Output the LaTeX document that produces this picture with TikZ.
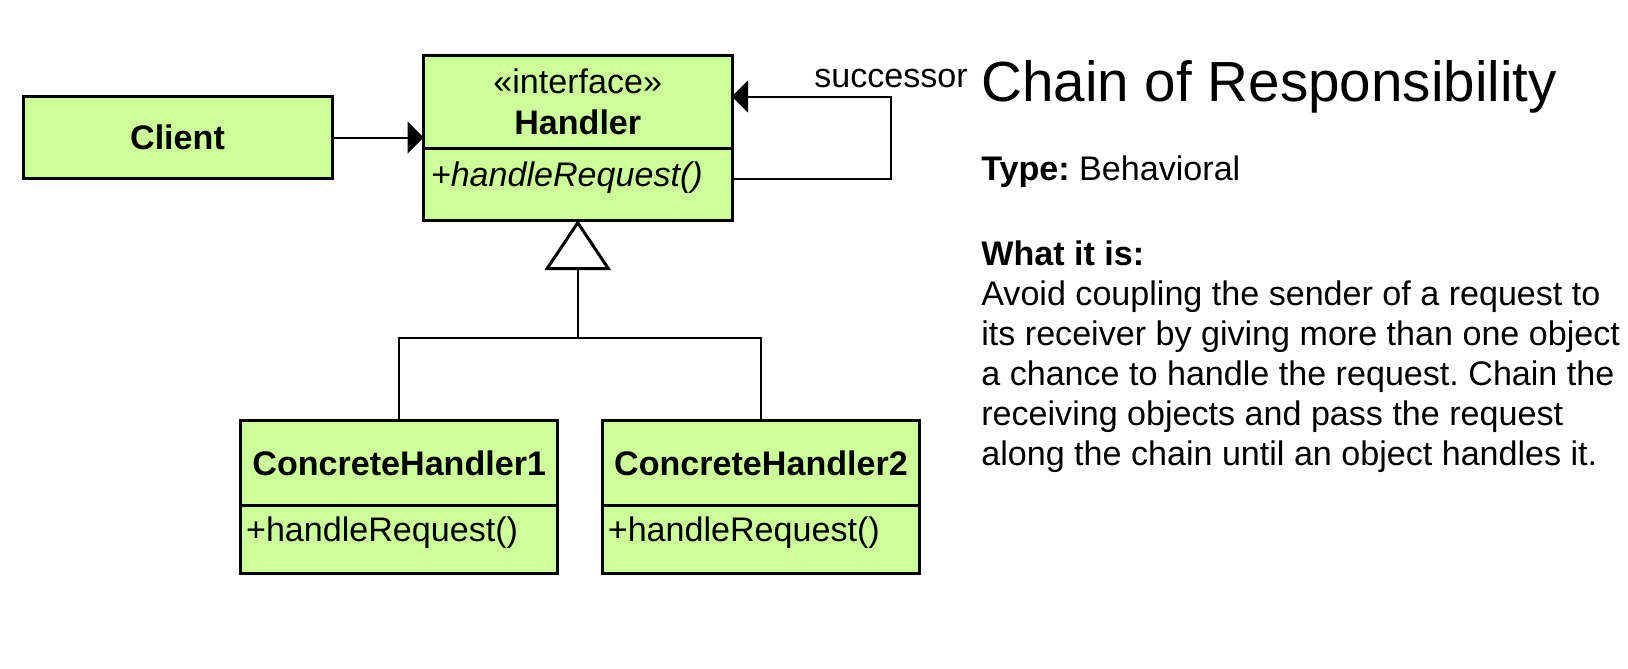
\documentclass[tikz,border=0pt]{standalone}
\usepackage{fontspec}
\setmainfont{Liberation Sans}
\usetikzlibrary{positioning, calc, arrows.meta}

\definecolor{umlgreen}{RGB}{204,255,153}
\newcommand{\umlfont}{\fontsize{19.4pt}{23.3pt}\selectfont}
\newcommand{\notefont}{\fontsize{19.4pt}{22.8pt}\selectfont\frenchspacing}

\begin{document}
\begin{tikzpicture}[
    classbox/.style={draw, line width=0.06cm, fill=umlgreen, inner sep=0pt, outer sep=0pt, align=center, font=\umlfont},
    optext/.style={anchor=base west, inner sep=0pt, font=\umlfont},
    umlarrow/.style={line width=0.04cm, -{Triangle[length=0.32cm, width=0.64cm]}},
    umlline/.style={line width=0.04cm},
    generalize/.style={line width=0.04cm, -{Triangle[open, length=1.0cm, width=1.32cm, line width=0.06cm]}},
    notetext/.style={anchor=base west, inner sep=0pt, align=left, font=\notefont}
]

    % Fix the page size
    \useasboundingbox (0,0) rectangle (32.56,-13.36);

    % Client and the Handler interface
    \node[classbox, minimum width=6.18cm, minimum height=1.64cm] (client) at (3.55,-2.75) {\textbf{Client}};
    \node[classbox, minimum width=6.17cm, minimum height=1.87cm] (handler) at (11.555,-2.035) {«interface»\\\textbf{Handler}};
    \node[classbox, minimum width=6.17cm, minimum height=1.43cm, below=0pt of handler] (handlerops) {};
    \node[optext] (handlerop) at ($(handlerops.north west)+(0.14,-0.76)$) {\textit{+handleRequest()}};

    % Concrete handlers
    \node[classbox, minimum width=6.34cm, minimum height=1.70cm] (concrete1) at (7.985,-9.26) {\textbf{ConcreteHandler1}};
    \node[classbox, minimum width=6.34cm, minimum height=1.35cm, below=0pt of concrete1] (concrete1ops) {};
    \node[optext] (concrete1op) at ($(concrete1ops.north west)+(0.1,-0.72)$) {+handleRequest()};

    \node[classbox, minimum width=6.34cm, minimum height=1.70cm] (concrete2) at (15.22,-9.26) {\textbf{ConcreteHandler2}};
    \node[classbox, minimum width=6.34cm, minimum height=1.35cm, below=0pt of concrete2] (concrete2ops) {};
    \node[optext] (concrete2op) at ($(concrete2ops.north west)+(0.1,-0.72)$) {+handleRequest()};

    % Associations
    \draw[umlarrow] (client.east) -- (client.east -| handler.west);
    \coordinate (succtop) at (17.82,-1.93);
    \coordinate (succbot) at (17.82,-3.57);
    \draw[umlarrow] (succbot -| handlerops.east) -- (succbot) -- (succtop) -- (succtop -| handler.east);
    \node[anchor=base, inner sep=0pt, font=\umlfont] (succlabel) at (17.82,-1.74) {successor};

    % Generalization
    \coordinate (split) at (11.555,-6.75);
    \draw[umlline] (concrete1.north) |- (split) -| (concrete2.north);
    \draw[generalize] (split) -- (handlerops.south);

    % Description (base anchor sits on the last line)
    \node[anchor=base west, inner sep=0pt, font=\fontsize{32.2pt}{38pt}\selectfont] (title) at (19.62,-2.02) {Chain of Responsibility};
    \node[notetext] (type) at (19.62,-3.6) {\textbf{Type:} Behavioral};
    \node[notetext] (whatis) at (19.62,-9.31) {\textbf{What it is:}\\
        Avoid coupling the sender of a request to\\
        its receiver by giving more than one object\\
        a chance to handle the request. Chain the\\
        receiving objects and pass the request\\
        along the chain until an object handles it.};

\end{tikzpicture}
\end{document}
